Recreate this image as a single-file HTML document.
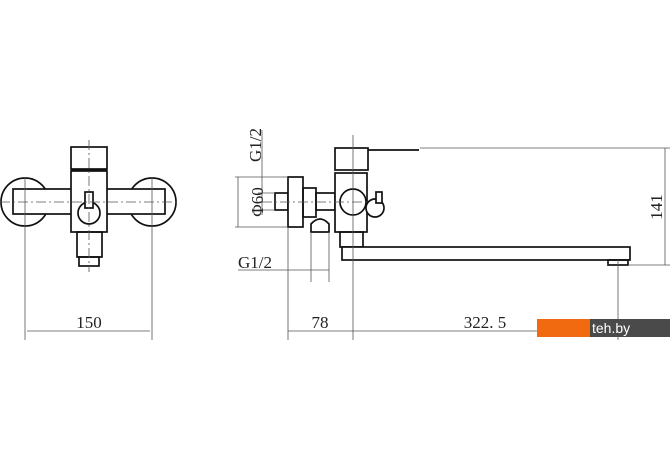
<!DOCTYPE html>
<html><head><style>body{margin:0;background:#fff}svg{display:block}</style></head><body>
<svg width="670" height="471" viewBox="0 0 670 471" xmlns="http://www.w3.org/2000/svg">
<g fill="none" stroke="#111" stroke-width="1.7">
<!-- front view -->
<circle cx="25" cy="202" r="24"/>
<circle cx="152" cy="202" r="24"/>
<rect x="13" y="189" width="152" height="25" fill="#fff"/>
<rect x="71" y="147" width="36" height="22" fill="#fff"/>
<line x1="71" y1="170" x2="107" y2="170"/>
<rect x="71" y="171" width="36" height="61" fill="#fff"/>
<circle cx="89" cy="213" r="11" fill="#fff"/>
<rect x="85" y="192" width="8" height="16" fill="#fff"/>
<rect x="77" y="232" width="25" height="25"/>
<rect x="79" y="257" width="20" height="9"/>
<!-- side view -->
<rect x="275" y="193" width="13" height="17"/>
<rect x="288" y="177" width="15" height="50" fill="#fff"/>
<rect x="303" y="188" width="13" height="29"/>
<rect x="316" y="193" width="19" height="17"/>
<path d="M311 232 L311 224 Q320 214 329 224 L329 232 Z"/>
<rect x="335" y="173" width="32" height="59" fill="#fff"/>
<rect x="335" y="148" width="33" height="22" fill="#fff"/>
<line x1="368" y1="150" x2="419" y2="150"/>
<circle cx="353" cy="202" r="13" fill="#fff"/>
<circle cx="375" cy="208" r="9" fill="#fff"/>
<rect x="376" y="192" width="6" height="11" fill="#fff"/>
<rect x="340" y="232" width="23" height="15"/>
<rect x="342" y="247" width="288" height="13" fill="#fff"/>
<rect x="608" y="260" width="20" height="5"/>
</g>
<g fill="none" stroke="#555" stroke-width="0.8">
<line x1="0" y1="202" x2="178" y2="202" stroke-dasharray="10 3 2 3"/>
<line x1="89" y1="140" x2="89" y2="272" stroke-dasharray="10 3 2 3"/>
<line x1="25" y1="177" x2="25" y2="340"/>
<line x1="152" y1="177" x2="152" y2="340"/>
<line x1="27" y1="331" x2="150" y2="331"/>
<line x1="262" y1="202" x2="370" y2="202" stroke-dasharray="10 3 2 3"/>
<line x1="353" y1="135" x2="353" y2="340"/>
<line x1="235" y1="177" x2="288" y2="177"/>
<line x1="235" y1="227" x2="288" y2="227"/>
<line x1="238" y1="177" x2="238" y2="227"/>
<line x1="258" y1="193" x2="275" y2="193"/>
<line x1="258" y1="210" x2="275" y2="210"/>
<line x1="262" y1="130" x2="262" y2="215"/>
<line x1="311" y1="232" x2="311" y2="282"/>
<line x1="329" y1="232" x2="329" y2="282"/>
<line x1="238" y1="270" x2="329" y2="270"/>
<line x1="288" y1="227" x2="288" y2="340"/>
<line x1="288" y1="331" x2="618" y2="331"/>
<line x1="618" y1="260" x2="618" y2="340"/>
<line x1="420" y1="148" x2="670" y2="148"/>
<line x1="628" y1="265" x2="670" y2="265"/>
<line x1="665" y1="148" x2="665" y2="265"/>
</g>
<g font-family="Liberation Serif, serif" font-size="17" fill="#222" text-anchor="middle">
<text x="89" y="328">150</text>
<text x="320" y="328">78</text>
<text x="485" y="328">322. 5</text>
<text x="255" y="268">G1/2</text>
<text transform="translate(263,202) rotate(-90)">Φ60</text>
<text transform="translate(261,145) rotate(-90)">G1/2</text>
<text transform="translate(662,207) rotate(-90)">141</text>
</g>
<rect x="537" y="319" width="53" height="18" fill="#f26a10"/>
<rect x="590" y="319" width="80" height="18" fill="#4a4a4a"/>
<text x="592" y="333" font-family="Liberation Sans, sans-serif" font-size="14" fill="#fff">teh.by</text>
</svg>
</body></html>
